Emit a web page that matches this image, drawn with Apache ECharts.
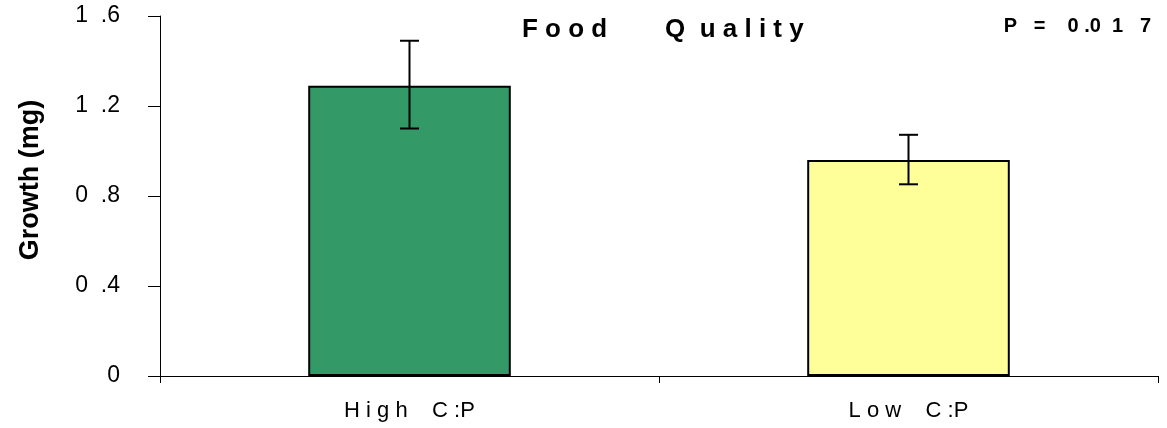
<!DOCTYPE html>
<html><head><meta charset="utf-8">
<script src="https://cdn.jsdelivr.net/npm/echarts@6/dist/echarts.min.js"></script>
<style>html,body{margin:0;padding:0;background:#fff}#c{width:1167px;height:428px}</style>
</head><body><div id="c"></div>
<script>
var categories = ['High C:P', 'Low C:P'];
var growth = [1.29, 0.96];
var errLow = [1.10, 0.852];
var errHigh = [1.49, 1.072];
var barColors = ['#339966', '#FFFF99'];
var yTicks = [0, 0.4, 0.8, 1.2, 1.6];
var yAxisName = 'Growth (mg)';
var titleText = 'F o o d        Q  u a l i t y';
var pText = 'P   =    0 .0  1   7';

function spaced(s) { return s.split('').join(' '); }
var chart = echarts.init(document.getElementById('c'));
var font = '"Liberation Sans", Arial, sans-serif';
chart.setOption({
  animation: false,
  title: [
    { text: titleText, left: 517, top: 12,
      textStyle: { fontFamily: font, fontSize: 26, fontWeight: 'bold', color: '#000' } },
    { text: pText, right: 11, top: 11,
      textStyle: { fontFamily: font, fontSize: 20, fontWeight: 'bold', color: '#000' } }
  ],
  graphic: [{
    type: 'text', x: 31, y: 180, rotation: Math.PI / 2,
    style: { text: yAxisName, fontFamily: font, fontSize: 27, fontWeight: 'bold', fill: '#000',
      align: 'center', verticalAlign: 'middle' }
  }],
  grid: { left: 160, right: 9, top: 16, bottom: 52 },
  xAxis: {
    type: 'category', data: categories,
    axisLine: { lineStyle: { color: '#000', width: 1 } },
    axisTick: { show: true, length: 7, lineStyle: { color: '#000' } },
    axisLabel: { color: '#000', fontFamily: font, fontSize: 22, margin: 24,
      formatter: function (v) { return v.split(' ').map(spaced).join('    ').replace('C : P', 'C :P'); } }
  },
  yAxis: {
    type: 'value', min: yTicks[0], max: yTicks[yTicks.length - 1], interval: 0.4,
    axisLine: { show: true, lineStyle: { color: '#000', width: 1 } },
    axisTick: { show: true, length: 12, lineStyle: { color: '#000' } },
    splitLine: { show: false },
    axisLabel: { color: '#000', fontFamily: font, fontSize: 23, margin: 40,
      formatter: function (v) { return v === 0 ? '0' : v.toFixed(1).replace('.', '  .'); } }
  },
  series: [
    { type: 'bar', barWidth: '40.6%',
      data: growth.map(function (v, i) {
        return { value: v, itemStyle: { color: barColors[i], borderColor: '#000', borderWidth: 2 } };
      }) },
    { type: 'custom', z: 10,
      data: categories.map(function (c, i) { return [i, errLow[i], errHigh[i]]; }),
      renderItem: function (params, api) {
        var lo = api.coord([api.value(0), api.value(1)]);
        var hi = api.coord([api.value(0), api.value(2)]);
        var x = lo[0], hw = 9.5;
        var st = { stroke: '#000', lineWidth: 2 };
        return { type: 'group', children: [
          { type: 'line', shape: { x1: x, y1: lo[1], x2: x, y2: hi[1] }, style: st },
          { type: 'line', shape: { x1: x - hw, y1: lo[1], x2: x + hw, y2: lo[1] }, style: st },
          { type: 'line', shape: { x1: x - hw, y1: hi[1], x2: x + hw, y2: hi[1] }, style: st }
        ] };
      } }
  ]
});
</script></body></html>
